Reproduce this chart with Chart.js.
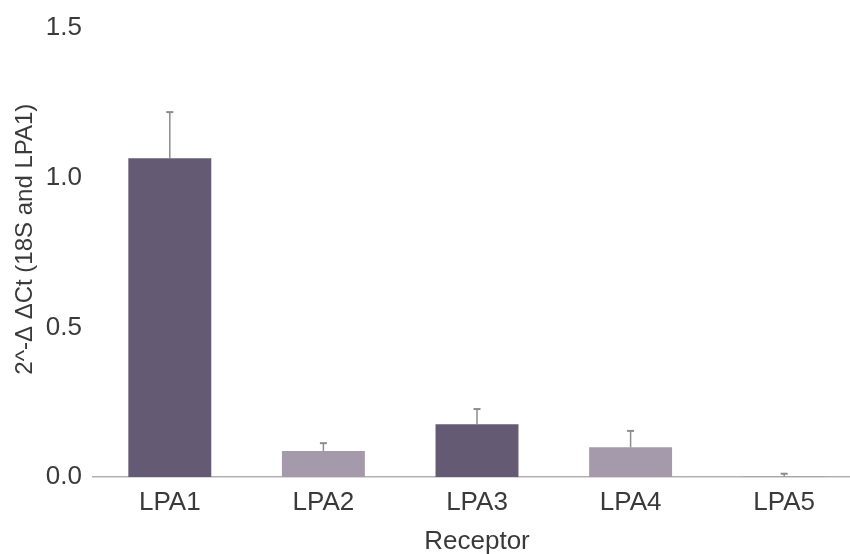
<!DOCTYPE html>
<html>
<head>
<meta charset="utf-8">
<script src="https://cdn.jsdelivr.net/npm/chart.js@4.4.0/dist/chart.umd.min.js"></script>
<style>
  html, body { margin: 0; padding: 0; background: #fff; overflow: hidden; width: 850px; height: 554px; }
  #wrap { width: 861px; height: 554px; }
</style>
</head>
<body>
<div id="wrap"><canvas id="c" width="861" height="554"></canvas></div>
<script>
const categories = ['LPA1', 'LPA2', 'LPA3', 'LPA4', 'LPA5'];
const values = [1.065, 0.087, 0.176, 0.099, 0.002];
const errors = [0.154, 0.026, 0.051, 0.055, 0.009];
const yTicks = [0.0, 0.5, 1.0, 1.5];
const xTitle = 'Receptor';
const yTitle = '2^-Δ ΔCt (18S and LPA1)';

const DARK = '#645a73';
const LIGHT = '#a49aac';
const barColors = [DARK, LIGHT, DARK, LIGHT, LIGHT];
const FONT = "'Liberation Sans', Arial, sans-serif";

const errorBars = {
  id: 'errorBars',
  afterDatasetsDraw(chart) {
    const ctx = chart.ctx;
    const meta = chart.getDatasetMeta(0);
    const y = chart.scales.y;
    ctx.save();
    ctx.strokeStyle = '#8c8c8c';
    meta.data.forEach((bar, i) => {
      const x = bar.x;
      const y0 = y.getPixelForValue(values[i]);
      const y1 = y.getPixelForValue(values[i] + errors[i]);
      ctx.lineWidth = 1.5;
      ctx.beginPath();
      ctx.moveTo(x, y0);
      ctx.lineTo(x, y1);
      ctx.stroke();
      ctx.lineWidth = 2;
      ctx.beginPath();
      ctx.moveTo(x - 3.5, y1);
      ctx.lineTo(x + 3.5, y1);
      ctx.stroke();
    });
    ctx.restore();
  }
};

new Chart(document.getElementById('c'), {
  type: 'bar',
  data: {
    labels: categories,
    datasets: [{
      data: values,
      backgroundColor: barColors,
      borderWidth: 0,
      barPercentage: 0.54,
      categoryPercentage: 1.0
    }]
  },
  options: {
    responsive: false,
    animation: false,
    devicePixelRatio: 1,
    layout: { padding: { top: 28, right: 0, bottom: 0, left: 0 } },
    plugins: { legend: { display: false }, tooltip: { enabled: false } },
    scales: {
      x: {
        grid: { display: false, drawTicks: false },
        border: { display: true, color: '#b3aeb9', width: 1.5 },
        ticks: { color: '#3a3a3a', font: { family: FONT, size: 26 }, padding: 10 },
        title: { display: true, text: xTitle, color: '#3a3a3a', font: { family: FONT, size: 26 }, padding: { top: 0, bottom: -3 } },
        afterFit(scale) { scale.height = 77; }
      },
      y: {
        min: 0, max: 1.5,
        afterBuildTicks(scale) { scale.ticks = yTicks.map(v => ({ value: v })); },
        grid: { display: false, drawTicks: false },
        border: { display: false },
        ticks: { color: '#3a3a3a', font: { family: FONT, size: 26 }, padding: 11,
                 callback: v => Number(v).toFixed(1) },
        title: { display: true, text: '    ' + yTitle, color: '#3a3a3a', font: { family: FONT, size: 24 }, padding: { top: 11, bottom: 0 } },
        afterFit(scale) { scale.width = 93; }
      }
    }
  },
  plugins: [errorBars]
});
</script>
</body>
</html>
